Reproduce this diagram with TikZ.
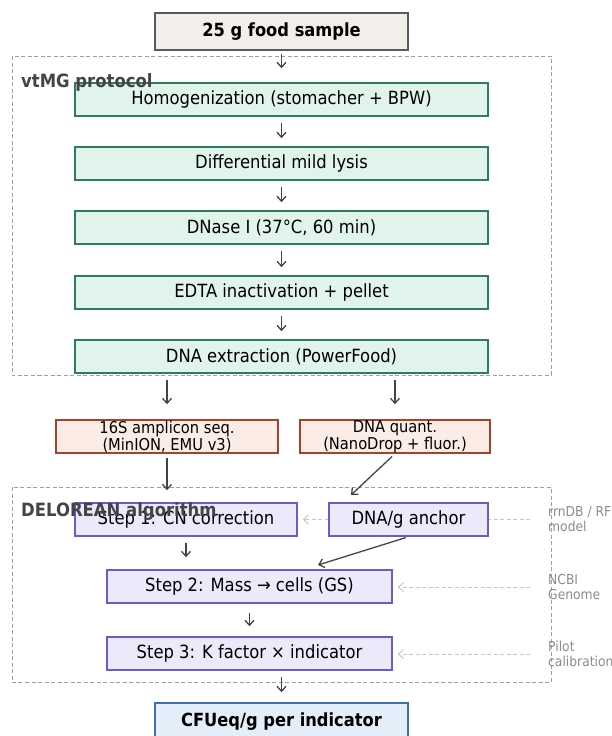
\documentclass[tikz,border=0pt]{standalone}
\usepackage{fontspec}
\setmainfont{DejaVu Sans}[FakeStretch=0.9]
\usetikzlibrary{arrows.meta,backgrounds}
\definecolor{samplefill}{HTML}{F2EFEA}
\definecolor{sampledraw}{HTML}{5A5A5A}
\definecolor{protfill}{HTML}{E1F4EC}
\definecolor{protdraw}{HTML}{2E7D5B}
\definecolor{measfill}{HTML}{FBECE6}
\definecolor{measdraw}{HTML}{A4432A}
\definecolor{algfill}{HTML}{EAEAFB}
\definecolor{algdraw}{HTML}{6A5ACD}
\definecolor{outfill}{HTML}{E4EEF9}
\definecolor{outdraw}{HTML}{3B72AE}
\definecolor{flowgray}{HTML}{444444}
\definecolor{sidegray}{HTML}{8C8C8C}

\begin{document}
\begin{tikzpicture}[x=1pt, y=-1pt,
  box/.style={draw, line width=1.5pt, inner sep=0pt, minimum height=33pt,
    font=\fontsize{18.2}{21}\selectfont},
  samplebox/.style={box, fill=samplefill, draw=sampledraw, minimum width=253pt,
    minimum height=37pt, font=\fontsize{18.1}{21}\selectfont\bfseries},
  protbox/.style={box, fill=protfill, draw=protdraw, minimum width=413pt},
  measbox/.style={box, fill=measfill, draw=measdraw, align=center,
    font=\fontsize{16.3}{15.5}\selectfont},
  algbox/.style={box, fill=algfill, draw=algdraw},
  outbox/.style={samplebox, fill=outfill, draw=outdraw, minimum height=38pt},
  groupbox/.style={draw=gray!75, line width=1pt, dash pattern=on 4pt off 2.5pt},
  grouplabel/.style={anchor=base west, text=flowgray, inner sep=0pt,
    font=\fontsize{18.3}{21}\selectfont\bfseries},
  sidelabel/.style={anchor=west, align=left, text=sidegray, inner sep=0pt,
    font=\fontsize{13.7}{15}\selectfont},
  flow/.style={draw=flowgray, line width=1.3pt,
    -{Straight Barb[length=5pt,width=9pt,line width=1.3pt]}},
  sideflow/.style={draw=gray!45, line width=1pt, dash pattern=on 4pt off 2.5pt,
    -{Straight Barb[length=5pt,width=9pt,line width=1pt]}}]

\useasboundingbox (0,0) rectangle (612,736);

% sample
\node[samplebox] (sample) at (281.5,31.5) {25 g food sample};

% vtMG protocol
\draw[groupbox] (12,56) rectangle (551,375);
\node[protbox] (homog) at (281.5,99.5) {Homogenization (stomacher + BPW)};
\node[protbox] (lysis) at (281.5,163.5) {Differential mild lysis};
\node[protbox] (dnase) at (281.5,227.5) {DNase I (37°C, 60 min)};
\node[protbox] (edta) at (281.5,292.5) {EDTA inactivation + pellet};
\node[protbox] (extract) at (281.5,356.5) {DNA extraction (PowerFood)};
\node[grouplabel] (vtmg) at (21,87) {vtMG protocol};

\draw[flow, shorten <=3pt, shorten >=14pt] (sample) -- (homog);
\foreach \a/\b in {homog/lysis, lysis/dnase, dnase/edta, edta/extract}
  \draw[flow, shorten <=6pt, shorten >=8pt] (\a) -- (\b);

% measurements
\node[measbox, minimum width=222pt] (seq) at (167,436.5)
  {16S amplicon seq.\\(MinION, EMU v3)};
\node[measbox, minimum width=190pt] (quant) at (395,436.5)
  {DNA quant.\\(NanoDrop + fluor.)};
\draw[flow, shorten <=6pt, shorten >=15pt] (extract.south -| seq) -- (seq);
\draw[flow, shorten <=6pt, shorten >=15pt] (extract.south -| quant) -- (quant);

% DELOREAN algorithm
\draw[groupbox] (12,487) rectangle (551,682);
\node[algbox, minimum width=222pt] (step1) at (186,519.5) {Step 1: CN correction};
\node[algbox, minimum width=159pt] (anchor) at (408.5,519.5) {DNA/g anchor};
\node[algbox, minimum width=285pt] (step2) at (249.5,586.5) {Step 2: Mass → cells (GS)};
\node[algbox, minimum width=285pt] (step3) at (249.5,653.5) {Step 3: K factor × indicator};
\node[grouplabel] (delorean) at (21,516) {DELOREAN algorithm};
\coordinate (anchorin) at (351,495);
\coordinate (step2in) at (318,565);

\draw[flow, shorten <=4pt, shorten >=12pt] (seq) -- (seq |- step1.north);
\draw[flow, shorten <=4pt] (quant.south) -- (anchorin);
\draw[flow, shorten <=6pt, shorten >=12pt] (step1.south) -- (step1.south |- step2.north);
\draw[flow, shorten <=3pt] (anchor.south) -- (step2in);
\draw[flow, shorten <=9pt, shorten >=10pt] (step2.south) -- (step2.south |- step3.north);

% side inputs
\node[sidelabel] (rrndb) at (548,519.5) {rrnDB / RF\\model};
\node[sidelabel] (ncbi) at (548,587) {NCBI\\Genome};
\node[sidelabel] (pilot) at (548,654) {Pilot\\calibration};
\begin{scope}[on background layer]
\draw[sideflow, shorten <=18pt, shorten >=5pt] (rrndb.west) -- (step1.east);
\end{scope}
\draw[sideflow, shorten <=18pt, shorten >=5pt] (ncbi.west) -- (ncbi.west -| step2.east);
\draw[sideflow, shorten <=18pt, shorten >=5pt] (pilot.west) -- (pilot.west -| step3.east);

% output
\node[outbox] (result) at (281.5,722) {CFUeq/g per indicator};
\draw[flow, shorten <=6pt, shorten >=10pt] (step3.south -| result) -- (result);

\end{tikzpicture}
\end{document}
